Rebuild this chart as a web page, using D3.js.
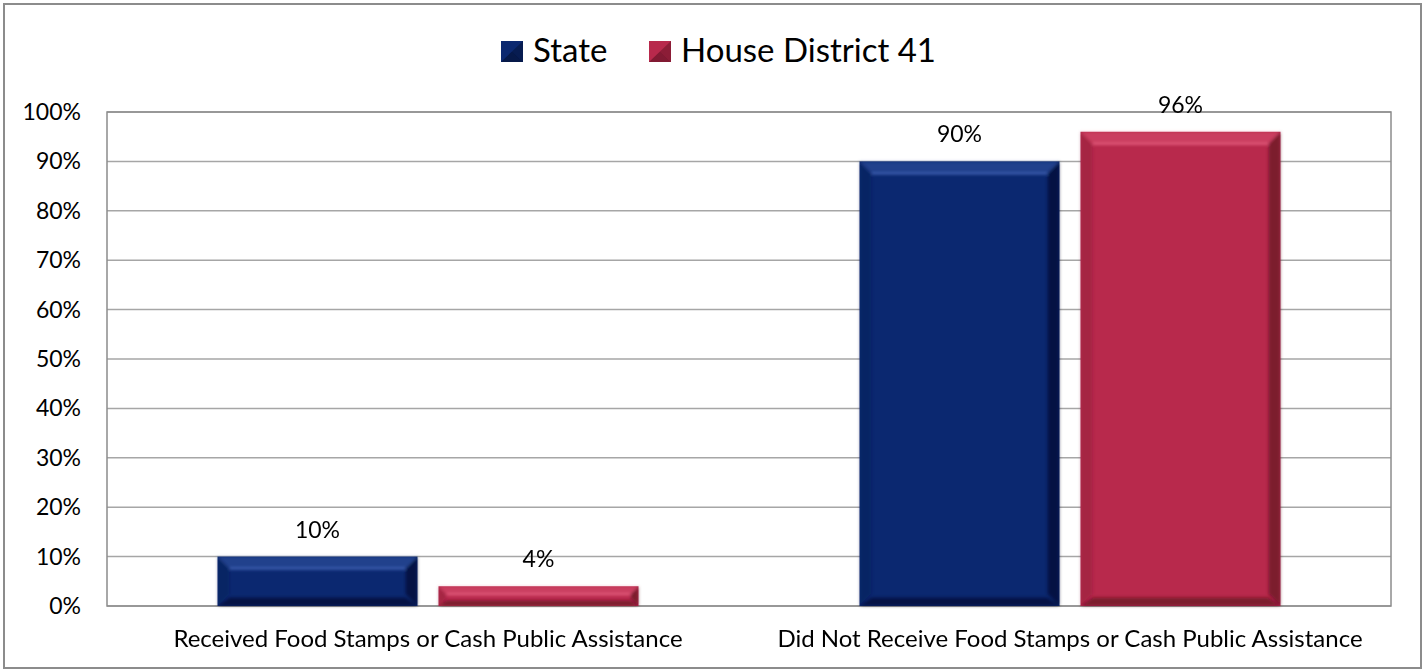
<!DOCTYPE html>
<html>
<head>
<meta charset="utf-8">
<script src="https://cdn.jsdelivr.net/npm/d3@7"></script>
<style>
  body { margin: 0; background: #fff; }
  text { font-family: Lato, "Open Sans", sans-serif; fill: #000; }
</style>
</head>
<body>
<svg id="chart"></svg>
<script>
// data
var categories = ["Received Food Stamps or Cash Public Assistance",
                  "Did Not Receive Food Stamps or Cash Public Assistance"]
var seriesNames = ["State", "House District 41"]
var stateValues = [10, 90]
var districtValues = [4, 96]
var yTicks = [0, 10, 20, 30, 40, 50, 60, 70, 80, 90, 100]

var svgw = 1425, svgh = 670
var margins = {left: 107, top: 112, right: 34, bottom: 64}
var graphDim = {width: svgw - margins.left - margins.right,
                height: svgh - margins.top - margins.bottom}

var colors = {
  "State": {base: "#0b2870", light: "#4a6cc0", dark: "#020a22", side: "#061848"},
  "House District 41": {base: "#b8294c", light: "#ec6686", dark: "#4a0c1a", side: "#7a1830"}
}

var svg = d3.select("#chart").attr("width", svgw).attr("height", svgh)

// outer frame
svg.append("rect")
  .attr("x", 4).attr("y", 4)
  .attr("width", svgw - 8).attr("height", svgh - 6)
  .attr("fill", "none").attr("stroke", "#8c8c8c").attr("stroke-width", 2)

var defs = svg.append("defs")
defs.append("filter").attr("id", "soft")
  .append("feGaussianBlur").attr("stdDeviation", 1.8)

var target = svg.append("g")
  .attr("transform", "translate(" + margins.left + "," + margins.top + ")")

var xscale = d3.scaleBand().domain(categories).range([0, graphDim.width])
var yscale = d3.scaleLinear().domain([0, 100]).range([graphDim.height, 0])

// grid
target.selectAll("line.grid")
  .data(yTicks)
  .enter()
  .append("line")
  .attr("class", "grid")
  .attr("x1", 0).attr("x2", graphDim.width)
  .attr("y1", function(d){ return yscale(d) })
  .attr("y2", function(d){ return yscale(d) })
  .attr("stroke", "#a6a6a6").attr("stroke-width", 1.5)

target.append("rect")
  .attr("x", 0).attr("y", 0)
  .attr("width", graphDim.width).attr("height", graphDim.height)
  .attr("fill", "none").attr("stroke", "#8c8c8c").attr("stroke-width", 1.5)

// y tick labels
target.selectAll("text.ytick")
  .data(yTicks)
  .enter()
  .append("text")
  .attr("class", "ytick")
  .attr("x", -26)
  .attr("y", function(d){ return yscale(d) })
  .attr("dy", "0.35em")
  .attr("text-anchor", "end")
  .style("font-size", "23px")
  .text(function(d){ return d + "%" })

// bars
var barw = 200, gap = 21
var rows = []
categories.forEach(function(c, i) {
  rows.push({cat: c, series: seriesNames[0], value: stateValues[i], k: 0})
  rows.push({cat: c, series: seriesNames[1], value: districtValues[i], k: 1})
})

var barX = function(d) {
  var center = xscale(d.cat) + xscale.bandwidth() / 2
  return d.k == 0 ? center - gap / 2 - barw : center + gap / 2
}

var bars = target.selectAll("g.bar")
  .data(rows)
  .enter()
  .append("g")
  .attr("class", "bar")
  .attr("transform", function(d){ return "translate(" + barX(d) + "," + yscale(d.value) + ")" })

bars.each(function(d) {
  var g = d3.select(this)
  var h = graphDim.height - yscale(d.value)
  var c = colors[d.series]
  var b = Math.min(12, h / 2.5)
  g.append("rect").attr("width", barw).attr("height", h).attr("fill", c.base)
  var shade = g.append("g").attr("filter", "url(#soft)")
  // top bevel
  shade.append("polygon")
    .attr("points", [[0,0],[barw,0],[barw-b,b],[b,b]].join(" "))
    .attr("fill", c.light).attr("opacity", 0.35)
  shade.append("line")
    .attr("x1", b).attr("x2", barw - b).attr("y1", b).attr("y2", b)
    .attr("stroke", c.light).attr("stroke-width", 2).attr("opacity", 0.9)
  // bottom bevel
  shade.append("polygon")
    .attr("points", [[0,h],[barw,h],[barw-b,h-b*0.7],[b,h-b*0.7]].join(" "))
    .attr("fill", c.dark).attr("opacity", 0.55)
  // left / right
  shade.append("polygon")
    .attr("points", [[0,0],[b,b],[b,h-b],[0,h]].join(" "))
    .attr("fill", c.side).attr("opacity", 0.3)
  shade.append("polygon")
    .attr("points", [[barw,0],[barw-b,b],[barw-b,h-b],[barw,h]].join(" "))
    .attr("fill", c.dark).attr("opacity", 0.55)
})

// value labels
target.selectAll("text.vlabel")
  .data(rows)
  .enter()
  .append("text")
  .attr("class", "vlabel")
  .attr("x", function(d){ return barX(d) + barw / 2 })
  .attr("y", function(d){ return yscale(d.value) - 19 })
  .attr("text-anchor", "middle")
  .style("font-size", "23px")
  .text(function(d){ return d.value + "%" })

// category labels
target.selectAll("text.cat")
  .data(categories)
  .enter()
  .append("text")
  .attr("class", "cat")
  .attr("x", function(d){ return xscale(d) + xscale.bandwidth() / 2 })
  .attr("y", graphDim.height + 41)
  .attr("text-anchor", "middle")
  .style("font-size", "24px")
  .text(function(d){ return d })

// legend
var legend = svg.append("g").attr("transform", "translate(501,41)")
var legendX = [0, 148]
var entries = legend.selectAll("g")
  .data(seriesNames)
  .enter()
  .append("g")
  .attr("transform", function(d, i){ return "translate(" + legendX[i] + ",0)" })

entries.append("rect")
  .attr("width", 22).attr("height", 21)
  .attr("fill", function(d){ return colors[d].base })
entries.append("polygon")
  .attr("points", "0,21 22,21 11,10.5")
  .attr("fill", function(d){ return colors[d].dark }).attr("opacity", 0.5)
entries.append("polygon")
  .attr("points", "22,0 22,21 11,10.5")
  .attr("fill", function(d){ return colors[d].dark }).attr("opacity", 0.4)
entries.append("text")
  .attr("x", 32).attr("y", 21)
  .style("font-size", "33px")
  .text(function(d){ return d })
</script>
</body>
</html>
